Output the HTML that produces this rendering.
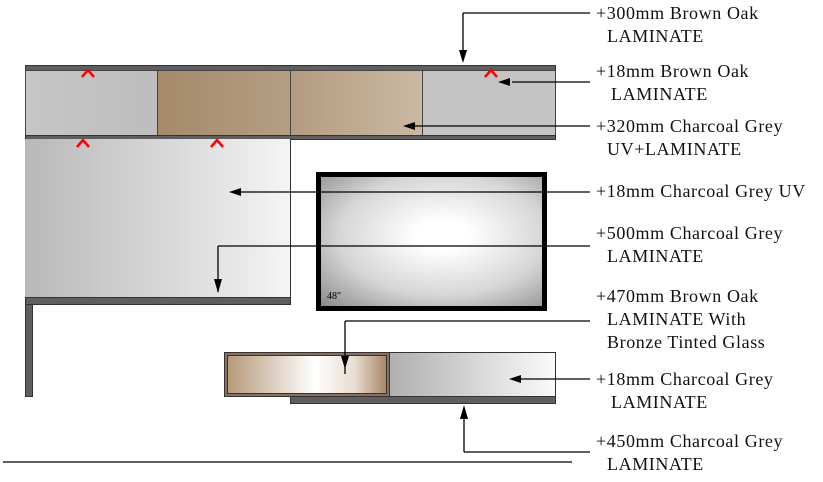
<!DOCTYPE html>
<html><head><style>
body{margin:0;width:823px;height:482px;background:#fff;position:relative;overflow:hidden;font-family:"Liberation Serif",serif;}
.a{position:absolute;box-sizing:border-box}
.d{background:#5f5f5f;border:1px solid #333}
.t{position:absolute;font-size:18px;letter-spacing:0.6px;line-height:23px;color:#111;white-space:nowrap}
</style></head><body>
<div class="a d" style="left:25px;top:65px;width:531px;height:6px"></div>
<div class="a" style="left:25px;top:70px;width:133px;height:66px;background:linear-gradient(90deg,#c6c6c6,#bdbdbd);border:1px solid #444"></div>
<div class="a" style="left:157px;top:70px;width:134px;height:66px;background:linear-gradient(90deg,#a58a6a,#b59e84);border:1px solid #444"></div>
<div class="a" style="left:290px;top:70px;width:133px;height:66px;background:linear-gradient(90deg,#b49c81,#cbb8a2);border:1px solid #444"></div>
<div class="a" style="left:422px;top:70px;width:134px;height:66px;background:#c4c4c4;border:1px solid #444"></div>
<div class="a d" style="left:25px;top:135px;width:531px;height:5px"></div>
<div class="a" style="left:25px;top:139px;width:266px;height:159px;background:linear-gradient(90deg,#b8b8b8,#f4f4f4);border-right:1px solid #333"></div>
<div class="a d" style="left:25px;top:297px;width:266px;height:8px"></div>
<div class="a d" style="left:25px;top:304px;width:8px;height:93px"></div>
<div class="a" style="left:316px;top:172px;width:231px;height:139px;border:5px solid #000;background:radial-gradient(ellipse at 55% 45%,#fff 15%,#d6d6d6 60%,#8a8a8a 100%)"></div>
<div class="a" style="left:327px;top:291px;font-size:10px">48"</div>
<div class="a" style="left:224px;top:352px;width:166px;height:45px;border:1px solid #333;background:#8a7060;padding:2px"><div style="width:100%;height:100%;border:1px solid #333;box-sizing:border-box;background:linear-gradient(90deg,#b59a7a,#ece4dc 40%,#fff 55%,#e8ddd2 80%,#a8886a)"></div></div>
<div class="a" style="left:389px;top:352px;width:167px;height:45px;border:1px solid #333;background:linear-gradient(90deg,#b0b0b0,#fafafa)"></div>
<div class="a d" style="left:290px;top:396px;width:266px;height:8px"></div>
<svg class="a" style="left:0;top:0" width="823" height="482">
<g stroke="#f00" stroke-width="2.5" fill="none">
<path d="M82 77l6-7 6 7M485 77l6-7 6 7M77 147l6-7 6 7M211 147l6-7 6 7"/></g>
<g stroke="#000" stroke-width="1.3" fill="none">
<path d="M463 13H590M463 13V60M512 82H590M410 126H590M236 192H590M218 246H590M218 246V292M345 321H590M345 321V374M514 379H590M464 452H590M464 452V408M3 462H572"/></g>
<g fill="#000">
<path d="M459 50h8l-4 13zM510 78v8l-12-4zM415 122v8l-12-4zM241 188v8l-12-4zM214 279h8l-4 14zM341 356h8l-4 13zM521 375v8l-12-4zM460 419h8l-4-14z"/></g>
</svg>
<div class="t" style="left:596px;top:2px">+300mm Brown Oak</div>
<div class="t" style="left:607px;top:25px">LAMINATE</div>
<div class="t" style="left:596px;top:60px">+18mm Brown Oak</div>
<div class="t" style="left:611px;top:83px">LAMINATE</div>
<div class="t" style="left:596px;top:115px">+320mm Charcoal Grey</div>
<div class="t" style="left:607px;top:138px">UV+LAMINATE</div>
<div class="t" style="left:596px;top:180px">+18mm Charcoal Grey UV</div>
<div class="t" style="left:596px;top:222px">+500mm Charcoal Grey</div>
<div class="t" style="left:607px;top:245px">LAMINATE</div>
<div class="t" style="left:596px;top:285px">+470mm Brown Oak</div>
<div class="t" style="left:607px;top:308px">LAMINATE With</div>
<div class="t" style="left:607px;top:331px">Bronze Tinted Glass</div>
<div class="t" style="left:596px;top:368px">+18mm Charcoal Grey</div>
<div class="t" style="left:611px;top:391px">LAMINATE</div>
<div class="t" style="left:596px;top:430px">+450mm Charcoal Grey</div>
<div class="t" style="left:607px;top:453px">LAMINATE</div>
</body></html>
